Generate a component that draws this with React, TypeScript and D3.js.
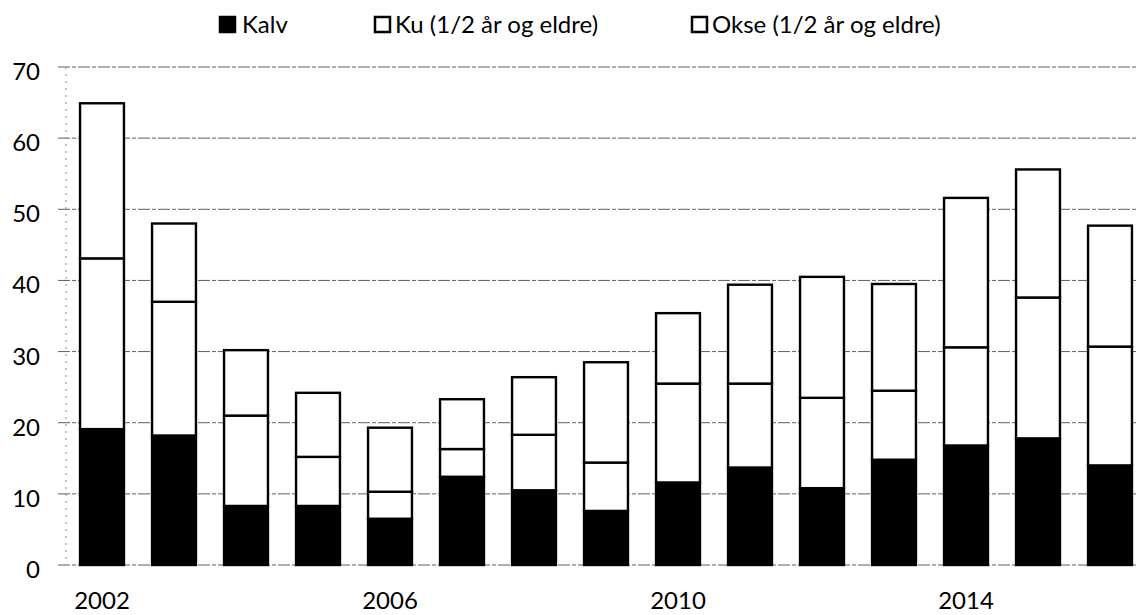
import React from "react";
import * as d3 from "d3";

const years = ["2002","2003","2004","2005","2006","2007","2008","2009","2010","2011","2012","2013","2014","2015","2016"];
const kalv = [19.1, 18.2, 8.3, 8.3, 6.5, 12.4, 10.5, 7.6, 11.6, 13.7, 10.8, 14.8, 16.8, 17.8, 14.0];
const ku = [24.0, 18.8, 12.7, 6.9, 3.8, 3.9, 7.8, 6.8, 13.9, 11.8, 12.7, 9.7, 13.8, 19.8, 16.7];
const okse = [21.8, 11.0, 9.2, 9.0, 9.0, 7.0, 8.1, 14.1, 9.9, 13.9, 17.0, 15.0, 21.0, 18.0, 17.0];
const yTicks = [0, 10, 20, 30, 40, 50, 60, 70];
const xTickLabels = ["2002", "2006", "2010", "2014"];
const seriesNames = ["Kalv", "Ku (1/2 år og eldre)", "Okse (1/2 år og eldre)"];
const seriesFill = ["#000", "#fff", "#fff"];

export default function App() {
  const W = 1137, H = 615;
  const axisX = 66;
  const x = d3.scaleBand<string>().domain(years).range([axisX, axisX + 15 * 72]).paddingInner(0.39).paddingOuter(0.195);
  const y = d3.scaleLinear().domain([0, 70]).range([565, 67]);
  const rows = years.map((yr, i) => ({ year: yr, k: kalv[i], u: ku[i], o: okse[i] }));
  const stack = d3.stack<any>().keys(["k", "u", "o"]);
  const layers = stack(rows);
  const font = "Lato, 'Open Sans', sans-serif";
  const legendX = [219, 374, 691];

  return (
    <svg width={W} height={H} style={{ position: "absolute", left: 0, top: 0, background: "#fff" }} fontFamily={font}>
      {/* gridlines */}
      {yTicks.map((t) => (
        <line key={t} x1={58} x2={W} y1={y(t)} y2={y(t)} stroke="#444" strokeWidth={1} strokeDasharray="12,2,4,2" opacity={0.85} />
      ))}
      {/* y axis */}
      <line x1={axisX} x2={axisX} y1={y(70)} y2={y(0)} stroke="#888" strokeWidth={1} strokeDasharray="2,5" />
      {yTicks.map((t) => (
        <text key={t} x={40} y={y(t) + 13} textAnchor="end" fontSize={24} fill="#000">{t}</text>
      ))}
      {/* bars */}
      {layers.map((layer, li) =>
        layer.map((d: any, i: number) => (
          <rect key={li + "-" + i} x={x(years[i])} width={x.bandwidth()} y={y(d[1])} height={y(d[0]) - y(d[1])}
            fill={seriesFill[li]} stroke="#000" strokeWidth={2.4} />
        ))
      )}
      {/* x labels */}
      {xTickLabels.map((lab) => (
        <text key={lab} x={(x(lab) as number) + x.bandwidth() / 2} y={609} textAnchor="middle" fontSize={24} fill="#000">{lab}</text>
      ))}
      {/* legend */}
      {seriesNames.map((n, i) => (
        <g key={n}>
          <rect x={legendX[i] + 1} y={17} width={15} height={15} fill={seriesFill[i]} stroke="#000" strokeWidth={2.5} />
          <text x={legendX[i] + (i === 0 ? 23 : 21)} y={33} fontSize={24} fill="#000">{n}</text>
        </g>
      ))}
    </svg>
  );
}
